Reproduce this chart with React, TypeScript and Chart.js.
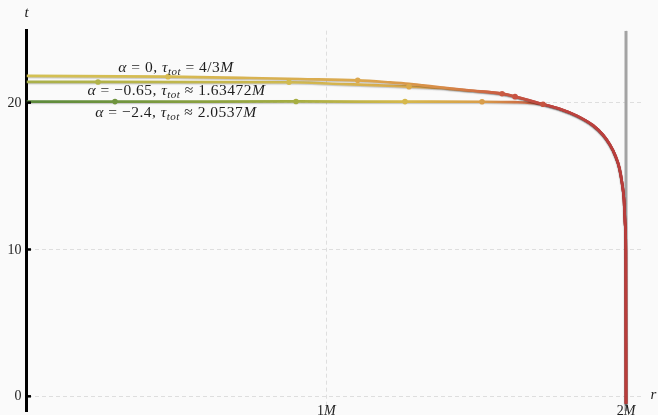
import React, { useEffect, useRef } from "react";
import { Chart, registerables } from "chart.js";

Chart.register(...registerables);

// ---- axis ranges and ticks ----
const rMin = 0;
const rMax = 2.05;
const tMin = -1;
const tMax = 24.9;
const yTickValues = [0, 10, 20];
const yTickLabels = ["0", "10", "20"];
const xTickValues = [1, 2];
const xTickLabels = ["1", "2"]; // followed by italic M

// ---- curve data (r in units of M, t) ----
// shared tail near the horizon
const tail_r = [1.6297, 1.7231, 1.7798, 1.8365, 1.8899, 1.9232, 1.9466, 1.9633, 1.9777, 1.9857, 1.9933, 1.9973, 1.9993, 2.0];
const tail_t = [20.41, 19.89, 19.57, 19.1, 18.45, 17.8, 17.12, 16.44, 15.56, 14.67, 13.38, 11.68, 9.98, -0.5];

// alpha = 0
const a0_r = [0, 0.4721, 0.7456, 0.9124, 1.1049, 1.2127, 1.2761, 1.3228, 1.3795, 1.4896, 1.5864];
const a0_t = [21.82, 21.77, 21.68, 21.61, 21.52, 21.38, 21.28, 21.18, 21.05, 20.81, 20.61];
// alpha = -0.65
const a065_r = [0, 0.2385, 0.8757, 1.0459, 1.156, 1.2761, 1.3228, 1.3795, 1.433, 1.4896, 1.5864];
const a065_t = [21.41, 21.41, 21.39, 21.27, 21.2, 21.09, 21.05, 21.0, 20.9, 20.81, 20.61];
// alpha = -2.4
const a24_r = [0, 0.2952, 0.8991, 1.2627, 1.5196, 1.63, 1.68];
const a24_t = [20.07, 20.07, 20.08, 20.07, 20.06, 20.03, 19.99];

// markers along each curve
const m0_r = [0.4721, 1.1049, 1.5864];
const m0_t = [21.77, 21.52, 20.61];
const m065_r = [0.2385, 0.8757, 1.2761, 1.6297];
const m065_t = [21.41, 21.39, 21.09, 20.41];
const m24_r = [0.2952, 0.8991, 1.2627, 1.5196, 1.7231];
const m24_t = [20.07, 20.08, 20.07, 20.06, 19.89];

// horizon line
const horizon_r = [2, 2];
const horizon_t = [tMin, tMax];

// ---- labels ----
type Part = { s: string; k: "n" | "i" | "sub" };
const label0: Part[] = [
  { s: "α", k: "i" }, { s: " = 0, ", k: "n" }, { s: "τ", k: "i" }, { s: "tot", k: "sub" },
  { s: " = 4/3", k: "n" }, { s: "M", k: "i" },
];
const label065: Part[] = [
  { s: "α", k: "i" }, { s: " = −0.65, ", k: "n" }, { s: "τ", k: "i" }, { s: "tot", k: "sub" },
  { s: " ≈ 1.63472", k: "n" }, { s: "M", k: "i" },
];
const label24: Part[] = [
  { s: "α", k: "i" }, { s: " = −2.4, ", k: "n" }, { s: "τ", k: "i" }, { s: "tot", k: "sub" },
  { s: " ≈ 2.0537", k: "n" }, { s: "M", k: "i" },
];

// ---- styles ----
const FONT = '"Liberation Serif", "DejaVu Serif", serif';
const stops0: [number, string][] = [
  [0, "#d3c152"], [0.47, "#d6bb52"], [1.1, "#dba84e"], [1.38, "#d88d48"], [1.59, "#c95a42"], [1.75, "#bd4540"], [2, "#b93d3b"],
];
const stops065: [number, string][] = [
  [0, "#a9b04a"], [0.24, "#b2b349"], [0.88, "#d2bb50"], [1.28, "#dbaa4c"], [1.45, "#d88d48"], [1.63, "#c85242"], [1.8, "#bd4540"], [2, "#b93d3b"],
];
const stops24: [number, string][] = [
  [0, "#5b893b"], [0.3, "#6f943e"], [0.9, "#a6ae42"], [1.26, "#d5b84c"], [1.52, "#d99e4a"], [1.72, "#c65440"], [1.85, "#bd4540"], [2, "#b93d3b"],
];

function pts(rs: number[], ts: number[]) {
  return rs.map((r, i) => ({ x: r, y: ts[i] }));
}

function gradient(chart: any, stops: [number, string][]) {
  const xs = chart.scales && chart.scales.x;
  if (!xs || !chart.chartArea) return stops[0][1];
  const x0 = xs.getPixelForValue(0);
  const x1 = xs.getPixelForValue(2);
  const g = chart.ctx.createLinearGradient(x0, 0, x1, 0);
  stops.forEach(([r, c]) => g.addColorStop(Math.min(1, Math.max(0, r / 2)), c));
  return g;
}

function drawMath(ctx: CanvasRenderingContext2D, parts: Part[], cx: number, base: number, size: number) {
  const fontOf = (k: string) =>
    k === "n" ? `${size}px ${FONT}` : k === "i" ? `italic ${size}px ${FONT}` : `italic ${Math.round(size * 0.7)}px ${FONT}`;
  const c: any = ctx;
  c.letterSpacing = "0.5px";
  let total = 0;
  const ws = parts.map((p) => {
    ctx.font = fontOf(p.k);
    const w = ctx.measureText(p.s).width;
    total += w;
    return w;
  });
  let x = cx - total / 2;
  ctx.textAlign = "left";
  ctx.textBaseline = "alphabetic";
  parts.forEach((p, i) => {
    ctx.font = fontOf(p.k);
    ctx.fillText(p.s, x, base + (p.k === "sub" ? 3 : 0));
    x += ws[i];
  });
  c.letterSpacing = "0px";
}

const shadowPlugin = {
  id: "lineShadow",
  beforeDatasetDraw(chart: any, args: any) {
    const ds = chart.data.datasets[args.index];
    chart.ctx.save();
    if (ds && ds.shadow) {
      chart.ctx.shadowColor = "rgba(0,0,0,0.22)";
      chart.ctx.shadowOffsetY = 1;
      chart.ctx.shadowBlur = 1.2;
    }
  },
  afterDatasetDraw(chart: any) {
    chart.ctx.restore();
  },
};

const textPlugin = {
  id: "texts",
  afterDraw(chart: any) {
    const ctx: CanvasRenderingContext2D = chart.ctx;
    const xs = chart.scales.x;
    const ys = chart.scales.y;
    const area = chart.chartArea;
    ctx.save();
    ctx.fillStyle = "#1e1e1e";
    ctx.strokeStyle = "#000";
    // y tick marks and labels
    ctx.lineWidth = 2.5;
    yTickValues.forEach((v, i) => {
      const py = ys.getPixelForValue(v);
      ctx.beginPath();
      ctx.moveTo(area.left, py);
      ctx.lineTo(area.left + 4.5, py);
      ctx.stroke();
      ctx.font = `14px ${FONT}`;
      ctx.textAlign = "right";
      ctx.textBaseline = "middle";
      ctx.fillText(yTickLabels[i], area.left - 5, py + 0.5);
    });
    // x tick labels
    xTickValues.forEach((v, i) => {
      const px = xs.getPixelForValue(v);
      ctx.font = `14px ${FONT}`;
      const w1 = ctx.measureText(xTickLabels[i]).width;
      ctx.font = `italic 14px ${FONT}`;
      const w2 = ctx.measureText("M").width;
      const x0 = px - (w1 + w2) / 2;
      ctx.textAlign = "left";
      ctx.textBaseline = "alphabetic";
      ctx.font = `14px ${FONT}`;
      ctx.fillText(xTickLabels[i], x0, 414.5);
      ctx.font = `italic 14px ${FONT}`;
      ctx.fillText("M", x0 + w1, 414.5);
    });
    // axis names
    ctx.font = `italic 15px ${FONT}`;
    ctx.textAlign = "center";
    ctx.textBaseline = "alphabetic";
    ctx.fillText("t", area.left, 17);
    ctx.textAlign = "left";
    ctx.fillText("r", 650.5, 399);
    // curve labels
    drawMath(ctx, label0, 176, 71.5, 15.5);
    drawMath(ctx, label065, 176.5, 94.5, 15.5);
    drawMath(ctx, label24, 176, 117.3, 15.5);
    ctx.restore();
  },
};

export default function App() {
  const ref = useRef<HTMLCanvasElement | null>(null);

  useEffect(() => {
    document.body.style.margin = "0";
    const canvas = ref.current;
    if (!canvas) return;

    const lineDs = (rs: number[], ts: number[], stops: [number, string][]) => ({
      data: pts(rs, ts),
      borderColor: (c: any) => gradient(c.chart, stops),
      borderWidth: 2.7,
      pointRadius: 0,
      fill: false,
      cubicInterpolationMode: "monotone",
      order: 1,
      shadow: true,
    });
    const markerDs = (rs: number[], ts: number[], stops: [number, string][]) => ({
      data: pts(rs, ts),
      showLine: false,
      pointRadius: 2.8,
      pointBorderWidth: 0,
      pointBackgroundColor: (c: any) => gradient(c.chart, stops),
      pointBorderColor: "rgba(0,0,0,0)",
      order: 0,
    });

    const chart = new Chart(canvas, {
      type: "line",
      data: {
        datasets: [
          markerDs(m0_r, m0_t, stops0),
          markerDs(m065_r, m065_t, stops065),
          markerDs(m24_r, m24_t, stops24),
          lineDs(a0_r.concat(tail_r.slice(1)), a0_t.concat(tail_t.slice(1)), stops0),
          lineDs(a065_r.concat(tail_r), a065_t.concat(tail_t), stops065),
          lineDs(a24_r.concat(tail_r.slice(1)), a24_t.concat(tail_t.slice(1)), stops24),
          {
            data: pts(horizon_r, horizon_t),
            borderColor: "#a3a3a3",
            borderWidth: 3,
            pointRadius: 0,
            order: 2,
          },
        ] as any,
      },
      options: {
        animation: false,
        responsive: false,
        maintainAspectRatio: false,
        events: [],
        layout: { padding: { left: 26.5, right: 17, top: 30.7, bottom: 3.6 } },
        plugins: { legend: { display: false }, tooltip: { enabled: false } },
        scales: {
          x: {
            type: "linear",
            min: rMin,
            max: rMax,
            afterBuildTicks: (axis: any) => {
              axis.ticks = xTickValues.map((v) => ({ value: v }));
            },
            ticks: { display: false },
            grid: { color: "#dedede", lineWidth: 1, drawTicks: false },
            border: { display: false, dash: [4, 3] },
          },
          y: {
            type: "linear",
            min: tMin,
            max: tMax,
            afterBuildTicks: (axis: any) => {
              axis.ticks = yTickValues.map((v) => ({ value: v }));
            },
            ticks: { display: false },
            grid: { color: "#dedede", lineWidth: 1, drawTicks: false },
            border: { display: true, color: "#000", width: 3, dash: [4, 3] },
          },
        },
      } as any,
      plugins: [shadowPlugin, textPlugin],
    });
    return () => chart.destroy();
  }, []);

  return (
    <div style={{ position: "fixed", left: 0, top: 0, width: 658, height: 415, background: "#fafafa" }}>
      <canvas ref={ref} width={658} height={415} style={{ display: "block", width: 658, height: 415 }} />
    </div>
  );
}
